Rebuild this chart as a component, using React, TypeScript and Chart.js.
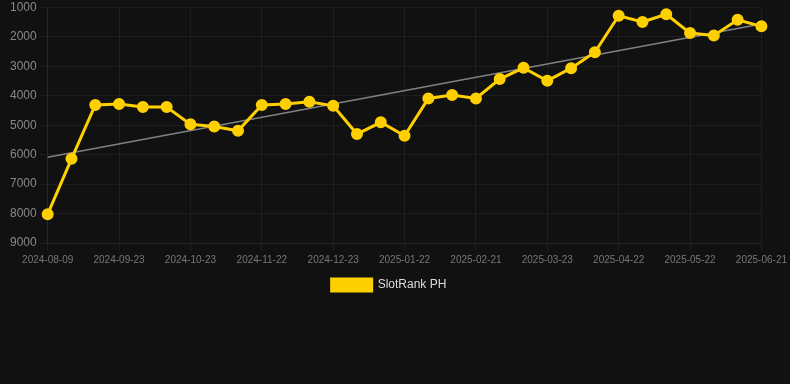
import React, { useEffect, useRef } from "react";
import { Chart, registerables } from "chart.js";

Chart.register(...registerables);

const dates: string[] = [
  "2024-08-09", "2024-08-24", "2024-09-08", "2024-09-23", "2024-10-03", "2024-10-13",
  "2024-10-23", "2024-11-02", "2024-11-12", "2024-11-22", "2024-12-02", "2024-12-12",
  "2024-12-23", "2025-01-02", "2025-01-12", "2025-01-22", "2025-02-01", "2025-02-11",
  "2025-02-21", "2025-03-03", "2025-03-13", "2025-03-23", "2025-04-02", "2025-04-12",
  "2025-04-22", "2025-05-02", "2025-05-12", "2025-05-22", "2025-06-01", "2025-06-11",
  "2025-06-21",
];

const rankValues: number[] = [
  8020, 6140, 4310, 4280, 4380, 4380, 4970, 5040, 5190, 4310, 4280, 4200,
  4340, 5300, 4900, 5360, 4090, 3970, 4090, 3430, 3050, 3490, 3060, 2520,
  1280, 1490, 1230, 1870, 1950, 1420, 1640,
];

const trendStart = 6090;
const trendEnd = 1560;

const yTicks: number[] = [1000, 2000, 3000, 4000, 5000, 6000, 7000, 8000, 9000];
const labelEvery = 3;

export default function App() {
  const ref = useRef<HTMLCanvasElement | null>(null);

  useEffect(() => {
    if (!ref.current) return;
    const trend = dates.map((_, i) =>
      i === 0 ? trendStart : i === dates.length - 1 ? trendEnd : null
    );
    const chart = new Chart(ref.current, {
      type: "line",
      data: {
        labels: dates,
        datasets: [
          {
            label: "SlotRank PH",
            data: rankValues,
            borderColor: "#FFD000",
            backgroundColor: "#FFD000",
            borderWidth: 3,
            pointRadius: 4.5,
            pointHoverRadius: 4.5,
            pointBackgroundColor: "#FFD000",
            pointBorderColor: "#FFD000",
            tension: 0,
            order: 1,
          },
          {
            label: "trend",
            data: trend,
            borderColor: "rgba(135,135,135,0.95)",
            backgroundColor: "rgba(135,135,135,0.95)",
            borderWidth: 1.6,
            pointRadius: 0,
            spanGaps: true,
            order: 2,
          },
        ],
      },
      options: {
        animation: false,
        responsive: true,
        maintainAspectRatio: false,
        layout: { padding: { left: 7, right: 19, top: 0, bottom: 0 } },
        scales: {
          x: {
            offset: false,
            afterBuildTicks: (axis: any) => {
              axis.ticks = axis.ticks.filter((_t: any, i: number) => i % labelEvery === 0);
            },
            grid: { color: "rgba(255,255,255,0.05)", tickLength: 8 },
            border: { color: "rgba(255,255,255,0.05)" },
            ticks: {
              autoSkip: false,
              maxRotation: 0,
              color: "#777",
              font: { family: "Liberation Sans, Arial, sans-serif", size: 10 },
              callback: (v: any) => dates[v],
            },
          },
          y: {
            reverse: true,
            min: yTicks[0],
            max: yTicks[yTicks.length - 1],
            afterBuildTicks: (axis: any) => {
              axis.ticks = yTicks.map((v) => ({ value: v }));
            },
            grid: { color: "rgba(255,255,255,0.05)", tickLength: 8 },
            border: { color: "rgba(255,255,255,0.05)" },
            ticks: {
              color: "#888",
              font: { family: "Liberation Sans, Arial, sans-serif", size: 12, lineHeight: 0.6 },
              callback: (v: any) => String(v),
            },
          },
        },
        plugins: {
          legend: {
            position: "bottom",
            labels: {
              color: "#ddd",
              boxWidth: 40,
              boxHeight: 12,
              font: { family: "Liberation Sans, Arial, sans-serif", size: 12 },
              filter: (item: any) => item.text === "SlotRank PH",
            },
          },
          tooltip: { enabled: false },
        },
      },
    });
    return () => chart.destroy();
  }, []);

  return (
    <div style={{ position: "fixed", left: 0, top: 0, width: 790, height: 384, background: "#111111" }}>
      <div style={{ position: "relative", width: 790, height: 301 }}>
        <canvas ref={ref} />
      </div>
    </div>
  );
}
